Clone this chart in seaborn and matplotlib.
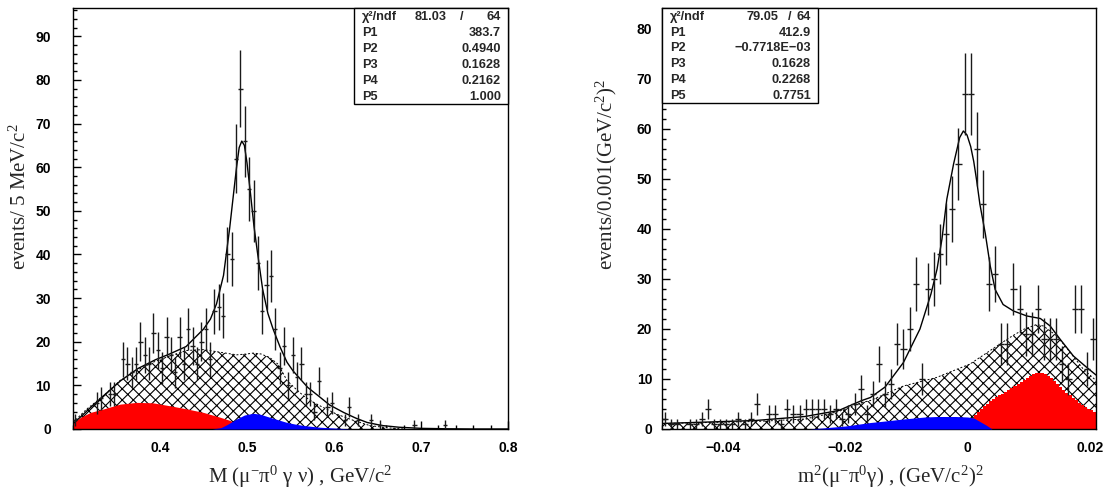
import numpy as np
import matplotlib
matplotlib.use("Agg")
import matplotlib.pyplot as plt
import seaborn as sns
from matplotlib.patches import Rectangle
from matplotlib.ticker import MultipleLocator

# ---------------- left panel: M(mu- pi0 gamma nu) ----------------
m_edges = (0.30, 0.80)
m_binw = 0.005
m_counts = [2, 0, 0, 0, 0, 6, 7, 0, 8, 8,
            0, 16, 15, 13, 15, 20, 17, 15, 22, 18,
            14, 21, 17, 13, 21, 15, 23, 19, 15, 20,
            23, 16, 27, 28, 26, 40, 39, 62, 78, 66,
            55, 50, 38, 27, 33, 35, 23, 14, 19, 10,
            17, 12, 15, 8, 8, 4, 11, 0, 5, 6,
            0, 0, 2, 5, 0, 2, 0, 0, 2, 0,
            1, 0, 0, 0, 0, 0, 0, 0, 1, 0,
            0, 0, 0, 0, 0, 1, 0, 0, 0, 0,
            0, 0, 0, 0, 0, 0, 0, 0, 0, 0]

m_fit_x = [0.300, 0.310, 0.320, 0.335, 0.355, 0.375, 0.395, 0.410, 0.430, 0.450,
           0.458, 0.465, 0.473, 0.480, 0.484, 0.488, 0.491, 0.494, 0.497, 0.500,
           0.504, 0.508, 0.512, 0.518, 0.524, 0.530, 0.538, 0.546, 0.553, 0.561,
           0.570, 0.582, 0.595, 0.611, 0.625, 0.638, 0.655, 0.675, 0.700, 0.730,
           0.760, 0.800]
m_fit_y = [1.2, 3.0, 4.9, 7.6, 11.1, 13.9, 15.9, 17.1, 18.9, 22.9,
           25.2, 28.7, 35.2, 45.9, 53.0, 60.0, 64.5, 66.0, 65.0, 61.0,
           54.0, 46.5, 40.5, 32.0, 26.5, 22.9, 18.8, 15.3, 13.3, 11.5,
           9.5, 7.6, 5.5, 3.8, 2.5, 1.5, 0.8, 0.4, 0.15, 0.05,
           0.0, 0.0]

m_bkg_x = [0.300, 0.316, 0.335, 0.354, 0.373, 0.392, 0.412, 0.431, 0.450, 0.469,
           0.488, 0.500, 0.507, 0.516, 0.526, 0.536, 0.546, 0.556, 0.565, 0.575,
           0.584, 0.603, 0.622, 0.641, 0.660, 0.680]
m_bkg_y = [1.5, 4.6, 7.6, 11.1, 13.4, 15.3, 16.8, 18.0, 18.2, 17.6,
           17.0, 17.2, 17.4, 17.2, 16.4, 14.8, 11.1, 9.2, 7.6, 6.3,
           5.3, 3.4, 2.0, 0.8, 0.3, 0.0]

m_red_x = [0.300, 0.310, 0.320, 0.335, 0.354, 0.373, 0.392, 0.412, 0.431, 0.450,
           0.469, 0.480, 0.488, 0.500, 0.507, 0.520, 0.530]
m_red_y = [1.5, 2.8, 3.8, 4.6, 5.7, 6.1, 6.0, 5.3, 4.6, 3.8,
           2.7, 2.0, 1.2, 0.6, 0.3, 0.1, 0.0]

m_blue_x = [0.460, 0.470, 0.477, 0.488, 0.497, 0.507, 0.515, 0.526, 0.536, 0.546,
            0.556, 0.565, 0.584, 0.603, 0.620]
m_blue_y = [0.0, 0.3, 1.0, 2.3, 3.2, 3.6, 3.4, 2.7, 2.1, 1.5,
            1.1, 0.8, 0.4, 0.2, 0.0]

m_stats = [("P1", "383.7"), ("P2", "0.4940"), ("P3", "0.1628"),
           ("P4", "0.2162"), ("P5", "1.000")]
m_chi2 = ("81.03", "64")

# ---------------- right panel: m^2(mu- pi0 gamma) ----------------
q_edges = (-0.050, 0.021)
q_binw = 0.001
q_counts = [2, 1, 1, 0, 1, 1, 2, 4, 1, 1,
            1, 1, 2, 1, 2, 5, 0, 3, 3, 1,
            4, 3, 3, 4, 4, 4, 4, 3, 4, 2,
            3, 5, 8, 3, 7, 13, 7, 9, 17, 16,
            20, 29, 10, 28, 30, 35, 39, 44, 53, 67,
            67, 56, 45, 29, 31, 17, 17, 28, 24, 19,
            19, 24, 18, 18, 18, 13, 10, 24, 24, 12,
            18]

q_fit_x = [-0.0500, -0.0347, -0.0266, -0.0211, -0.0173, -0.0159, -0.0135, -0.0105,
           -0.0078, -0.0060, -0.0050, -0.0042, -0.0034, -0.0023, -0.0013, -0.0007,
           -0.0001, 0.0005, 0.0010, 0.0015, 0.0020, 0.0029, 0.0037, 0.0045,
           0.0058, 0.0075, 0.0097, 0.0119, 0.0135, 0.0151, 0.0173, 0.0195, 0.0210]
q_fit_y = [1.1, 1.7, 2.5, 3.7, 5.7, 6.3, 8.4, 13.3,
           20.0, 27.0, 32.0, 38.0, 46.0, 53.0, 58.3, 59.6,
           58.8, 56.5, 53.5, 49.5, 45.0, 39.0, 32.6, 27.9,
           24.9, 23.6, 22.6, 22.1, 20.6, 18.0, 14.6, 12.3, 10.8]

q_bkg_x = [-0.0500, -0.0347, -0.0266, -0.0211, -0.0173, -0.0159, -0.0135, -0.0105,
           -0.0051, 0.0004, 0.0048, 0.0069, 0.0091, 0.0113, 0.0124, 0.0146,
           0.0168, 0.0189, 0.0210]
q_bkg_y = [1.1, 1.5, 2.0, 3.5, 5.3, 5.7, 7.0, 8.6,
           10.3, 13.0, 16.6, 18.3, 19.9, 20.9, 20.6, 18.6,
           15.3, 12.0, 9.7]

q_blue_x = [-0.0260, -0.0238, -0.0200, -0.0159, -0.0135, -0.0105, -0.0070, -0.0050,
            -0.0020, 0.0000, 0.0010, 0.0020, 0.0030, 0.0040]
q_blue_y = [0.0, 0.2, 0.6, 1.3, 1.6, 2.0, 2.4, 2.5,
            2.5, 2.4, 2.2, 1.5, 0.8, 0.0]

q_red_lo = 0.0000
q_red_binw = 0.0005
q_red_y = [1.5, 2.3, 2.9, 3.4, 4.0, 4.6, 5.1, 5.6, 6.0, 6.4,
           6.8, 7.1, 7.5, 7.9, 8.3, 8.7, 9.1, 9.5, 9.9, 10.3,
           10.7, 11.0, 11.2, 11.3, 11.2, 11.0, 10.6, 10.2, 9.7, 9.1,
           8.5, 7.9, 7.3, 6.8, 6.2, 5.8, 5.3, 4.9, 4.5, 4.1,
           3.8, 3.5]

q_stats = [("P1", "412.9"), ("P2", "\u22120.7718E\u221203"), ("P3", "0.1628"),
           ("P4", "0.2268"), ("P5", "0.7751")]
q_chi2 = ("79.05", "64")

# ---------------- styling ----------------
sns.set_theme(style="white")
plt.rcParams.update({
    "font.family": ["Liberation Sans", "DejaVu Sans"],
    "mathtext.fontset": "custom",
    "mathtext.rm": "Liberation Serif",
    "mathtext.it": "Liberation Serif:italic",
    "mathtext.bf": "Liberation Serif:bold",
    "hatch.linewidth": 0.8,
    "axes.unicode_minus": True,
})

W, H = 1112, 493
fig = plt.figure(figsize=(W / 100, H / 100), dpi=100)
fig.patch.set_facecolor("white")


def px_axes(x0, x1, ytop, ybot):
    return fig.add_axes([x0 / W, 1 - ybot / H, (x1 - x0) / W, (ybot - ytop) / H])


def draw_panel(ax, lo, binw, counts, fit_x, fit_y, bkg_x, bkg_y,
               blue_x, blue_y, red_fill):
    # total background (hatched)
    ax.fill_between(bkg_x, 0, bkg_y, facecolor="white", edgecolor="black",
                    hatch="xxx", linewidth=0, zorder=1)
    ax.plot(bkg_x, bkg_y, color="black", lw=0.7, ls=(0, (2, 2)), zorder=1.5)
    red_fill(ax)
    ax.fill_between(blue_x, 0, blue_y, color="#0000ff", linewidth=0, zorder=3)
    # fit curve
    sns.lineplot(x=fit_x, y=fit_y, ax=ax, color="black", lw=1.0,
                 zorder=5, estimator=None, sort=False)
    # data points with Poisson errors
    counts = np.asarray(counts, dtype=float)
    centers = lo + binw * (np.arange(len(counts)) + 0.5)
    keep = counts > 0
    ax.errorbar(centers[keep], counts[keep], yerr=np.sqrt(counts[keep]),
                xerr=binw / 2, fmt="none", ecolor="#1a1a1a", elinewidth=1.0,
                capsize=0, zorder=6)


def stats_box(x0, x1, ytop, ybot, chi2, rows, chi_pos):
    # coordinates in figure pixels
    fx = lambda v: v / W
    fy = lambda v: 1 - v / H
    rect = Rectangle((fx(x0), fy(ybot)), fx(x1) - fx(x0), fy(ytop) - fy(ybot),
                     transform=fig.transFigure, facecolor="white",
                     edgecolor="black", lw=1.0, zorder=20)
    fig.add_artist(rect)
    kw = dict(fontsize=9.2, fontweight="bold", va="center", zorder=21,
              transform=fig.transFigure)
    row_h = (ybot - ytop) / 6.0
    y = ytop + row_h * 0.55
    fig.text(fx(x0 + 8), fy(y), "\u03c7\u00b2/ndf", ha="left", **kw)
    fig.text(fx(chi_pos[0]), fy(y), chi2[0], ha="right", **kw)
    fig.text(fx(chi_pos[1]), fy(y), "/", ha="center", **kw)
    fig.text(fx(x1 - 7), fy(y), chi2[1], ha="right", **kw)
    for k, (name, val) in enumerate(rows):
        yy = y + row_h * (k + 1)
        fig.text(fx(x0 + 8), fy(yy), name, ha="left", **kw)
        fig.text(fx(x1 - 7), fy(yy), val, ha="right", **kw)


def style_axes(ax, xmaj, xmin, ymaj, ymin, ypad):
    for s in ax.spines.values():
        s.set_visible(True)
        s.set_color("black")
        s.set_linewidth(1.0)
    ax.xaxis.set_major_locator(MultipleLocator(xmaj))
    ax.xaxis.set_minor_locator(MultipleLocator(xmin))
    ax.yaxis.set_major_locator(MultipleLocator(ymaj))
    ax.yaxis.set_minor_locator(MultipleLocator(ymin))
    ax.tick_params(which="both", direction="in", top=False, right=False,
                   bottom=True, left=True, colors="black", width=1.0)
    ax.tick_params(which="major", length=6.0)
    ax.tick_params(which="minor", length=3.0)
    ax.tick_params(axis="x", which="major", pad=9, labelsize=10)
    ax.tick_params(axis="y", which="major", pad=ypad, labelsize=10)
    ax.set_xlabel("")
    ax.set_ylabel("")
    ax.grid(False)
    ax.set_facecolor("white")


# ---------- left ----------
axL = px_axes(73, 508, 8, 429)


def red_left(ax):
    ax.fill_between(m_red_x, 0, m_red_y, color="#ff0000", linewidth=0, zorder=2)


draw_panel(axL, m_edges[0], m_binw, m_counts, m_fit_x, m_fit_y,
           m_bkg_x, m_bkg_y, m_blue_x, m_blue_y, red_left)
axL.set_xlim(*m_edges)
axL.set_ylim(0, 96.5)
style_axes(axL, 0.1, 0.02, 10, 2, 16)
axL.set_xticks([0.4, 0.5, 0.6, 0.7, 0.8])
axL.set_xticklabels(["0.4", "0.5", "0.6", "0.7", "0.8"], fontweight="bold")
axL.set_yticks(range(0, 100, 10))
axL.set_yticklabels([str(v) for v in range(0, 100, 10)], fontweight="bold")

fig.text(300 / W, 1 - 477 / H,
         r"M (μ$^{-}$π$^{0}$ γ ν) , GeV/c$^{2}$",
         family="Liberation Serif", fontsize=15, ha="center", va="center")
fig.text(20 / W, 1 - 270 / H, r"events/ 5 MeV/c$^{2}$",
         family="Liberation Serif", fontsize=15, rotation=90,
         rotation_mode="anchor", ha="left", va="center")

# ---------- right ----------
axR = px_axes(662, 1096, 8, 429)


def red_right(ax):
    n = len(q_red_y)
    edges = q_red_lo + q_red_binw * np.arange(n + 1)
    ax.stairs(q_red_y, edges, fill=True, color="#ff0000", linewidth=0, zorder=2)


draw_panel(axR, q_edges[0], q_binw, q_counts, q_fit_x, q_fit_y,
           q_bkg_x, q_bkg_y, q_blue_x, q_blue_y, red_right)
axR.set_xlim(*q_edges)
axR.set_ylim(0, 84.2)
style_axes(axR, 0.02, 0.005, 10, 2, 7)
axR.set_xticks([-0.04, -0.02, 0.0, 0.02])
axR.set_xticklabels(["\u22120.04", "\u22120.02", "0", "0.02"], fontweight="bold")
axR.set_yticks(range(0, 90, 10))
axR.set_yticklabels([str(v) for v in range(0, 90, 10)], fontweight="bold")

fig.text(890 / W, 1 - 477 / H,
         r"m$^{2}$(μ$^{-}$π$^{0}$γ) , (GeV/c$^{2}$)$^{2}$",
         family="Liberation Serif", fontsize=15, ha="center", va="center")
fig.text(606 / W, 1 - 270 / H, r"events/0.001(GeV/c$^{2}$)$^{2}$",
         family="Liberation Serif", fontsize=15, rotation=90,
         rotation_mode="anchor", ha="left", va="center")

# ---------- statistics boxes ----------
stats_box(354, 508, 8, 104, m_chi2, m_stats, (447, 462))
stats_box(662, 818, 8, 103, q_chi2, q_stats, (778, 790))

fig.savefig("out.png", dpi=100)
